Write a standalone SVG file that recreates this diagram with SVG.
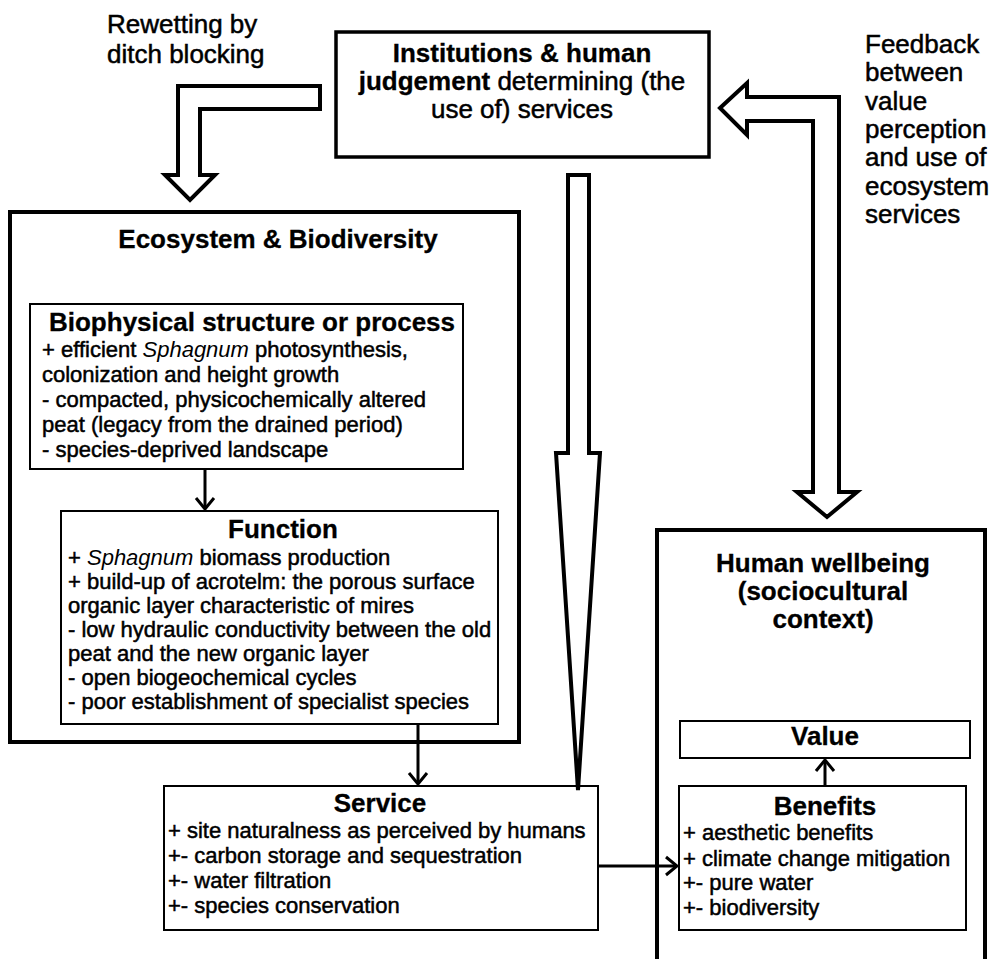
<svg xmlns="http://www.w3.org/2000/svg" width="993" height="959" viewBox="0 0 993 959">
<style>
text{font-family:"Liberation Sans",Arial,sans-serif;fill:#000}
.lbl{font-size:26px;stroke:#000;stroke-width:0.5}
.h{font-size:26px;font-weight:bold;stroke:#000;stroke-width:0.3}
.b{font-size:22px;stroke:#000;stroke-width:0.5}
.it{font-style:italic;stroke-width:0}
.thick{fill:none;stroke:#000;stroke-width:4}
.thin{fill:#fff;stroke:#000;stroke-width:2}
.big{fill:#fff;stroke:#000;stroke-width:4;stroke-linejoin:miter}
.con{fill:none;stroke:#000;stroke-width:3}
</style>
<defs>
<marker id="chev" viewBox="-14 -11 16 22" refX="0" refY="0" markerWidth="16" markerHeight="22" markerUnits="userSpaceOnUse" orient="auto">
<path d="M-11,-9 L0,0 L-11,9" fill="none" stroke="#000" stroke-width="3"/>
</marker>
</defs>
<rect width="993" height="959" fill="#fff"/>

<g id="ecosystem">
<rect x="10" y="212" width="509" height="530" class="thick"/>
<text class="h" x="278" y="248" text-anchor="middle">Ecosystem &amp; Biodiversity</text>
</g>

<g id="human-wellbeing">
<rect x="657" y="530" width="328" height="440" class="thick"/>
<text class="h" x="823" y="572" text-anchor="middle">Human wellbeing</text>
<text class="h" x="823" y="600" text-anchor="middle">(sociocultural</text>
<text class="h" x="823" y="628" text-anchor="middle">context)</text>
</g>

<g id="institutions">
<rect x="336" y="32" width="373" height="125" fill="#fff" stroke="#000" stroke-width="3.5"/>
<text class="h" x="522" y="62" text-anchor="middle">Institutions &amp; human</text>
<text class="lbl" x="522" y="90" text-anchor="middle"><tspan font-weight="bold" stroke-width="0.3">judgement</tspan> determining (the</text>
<text class="lbl" x="522" y="118" text-anchor="middle">use of) services</text>
</g>

<g id="rewetting-label">
<text class="lbl" x="107" y="33">Rewetting by</text>
<text class="lbl" x="107" y="63">ditch blocking</text>
</g>

<g id="feedback-label">
<text class="lbl" x="865" y="53">Feedback</text>
<text class="lbl" x="865" y="81">between</text>
<text class="lbl" x="865" y="110">value</text>
<text class="lbl" x="865" y="138">perception</text>
<text class="lbl" x="865" y="166">and use of</text>
<text class="lbl" x="865" y="195">ecosystem</text>
<text class="lbl" x="865" y="223">services</text>
</g>

<g id="biophysical">
<rect x="30" y="304" width="433" height="165" class="thin"/>
<text class="h" x="252" y="331" text-anchor="middle">Biophysical structure or process</text>
<text class="b" x="42" y="357">+ efficient <tspan class="it">Sphagnum</tspan> photosynthesis,</text>
<text class="b" x="42" y="382">colonization and height growth</text>
<text class="b" x="42" y="407">- compacted, physicochemically altered</text>
<text class="b" x="42" y="432">peat (legacy from the drained period)</text>
<text class="b" x="42" y="457">- species-deprived landscape</text>
</g>

<g id="function">
<rect x="61" y="511" width="437" height="213" class="thin"/>
<text class="h" x="283" y="538" text-anchor="middle">Function</text>
<text class="b" x="68" y="565">+ <tspan class="it">Sphagnum</tspan> biomass production</text>
<text class="b" x="68" y="589">+ build-up of acrotelm: the porous surface</text>
<text class="b" x="68" y="613">organic layer characteristic of mires</text>
<text class="b" x="68" y="637">- low hydraulic conductivity between the old</text>
<text class="b" x="68" y="661">peat and the new organic layer</text>
<text class="b" x="68" y="685">- open biogeochemical cycles</text>
<text class="b" x="68" y="709">- poor establishment of specialist species</text>
</g>

<g id="service">
<rect x="164" y="786" width="434" height="144" class="thin"/>
<text class="h" x="380" y="812" text-anchor="middle">Service</text>
<text class="b" x="168" y="838">+ site naturalness as perceived by humans</text>
<text class="b" x="168" y="863">+- carbon storage and sequestration</text>
<text class="b" x="168" y="888">+- water filtration</text>
<text class="b" x="168" y="913">+- species conservation</text>
</g>

<g id="value">
<rect x="680" y="721" width="290" height="37" class="thin"/>
<text class="h" x="825" y="745" text-anchor="middle">Value</text>
</g>

<g id="benefits">
<rect x="679" y="786" width="287" height="144" class="thin"/>
<text class="h" x="825" y="815" text-anchor="middle">Benefits</text>
<text class="b" x="683" y="840">+ aesthetic benefits</text>
<text class="b" x="683" y="866">+ climate change mitigation</text>
<text class="b" x="683" y="890">+- pure water</text>
<text class="b" x="683" y="915">+- biodiversity</text>
</g>

<g id="connectors">
<path class="big" d="M320,86 L178,86 L178,175 L165,175 L190,200 L215,175 L200,175 L200,109 L320,109 Z"/>
<path class="big" d="M568,175 L589,175 L589,453 L600,453 L578,790 L556,453 L568,453 Z"/>
<path class="big" d="M720,108 L747,83 L747,97 L839,97 L839,492 L857,492 L827,517 L797,492 L813,492 L813,121 L747,121 L747,135 Z"/>
<line class="con" x1="205" y1="469" x2="205" y2="509" marker-end="url(#chev)"/>
<line class="con" x1="418" y1="724" x2="418" y2="784" marker-end="url(#chev)"/>
<line class="con" x1="598" y1="866" x2="677" y2="866" marker-end="url(#chev)"/>
<line class="con" x1="825" y1="786" x2="825" y2="760" marker-end="url(#chev)"/>
</g>
</svg>
